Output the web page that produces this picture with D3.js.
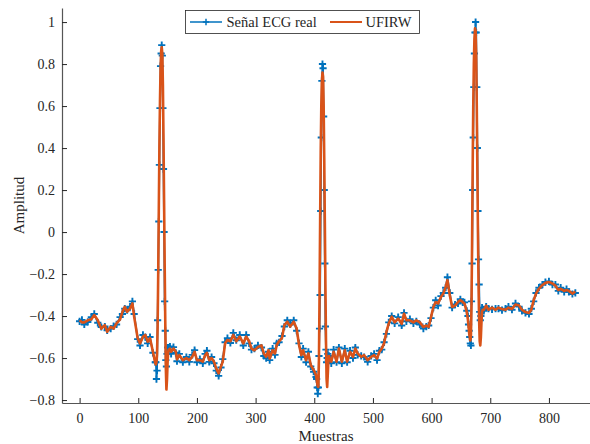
<!DOCTYPE html>
<html>
<head>
<meta charset="utf-8">
<script src="https://cdn.jsdelivr.net/npm/d3@7/dist/d3.min.js"></script>
<style>
  html, body { margin: 0; padding: 0; background: #fff; }
  svg { display: block; }
  text { font-family: "Liberation Serif", "Times New Roman", serif; fill: #262626; }
</style>
</head>
<body>
<svg id="chart" width="590" height="444"></svg>
<script>
// Sample index (x) shared by both traces
const muestras = [
  0, 4, 8, 14, 20, 25, 31, 37, 43, 47, 53, 58, 63, 69, 73, 77, 81, 86, 90, 93,
  99, 103, 108, 112, 116, 120, 125, 129,
  130, 131, 132, 133, 134, 135, 136, 137, 138, 139, 140, 141, 142, 143, 144, 145, 146, 147, 148, 149, 150, 151, 152,
  154, 156, 160, 164, 166, 170, 176, 182, 187, 192, 196, 200, 205, 210, 214, 217, 221, 225, 229, 233, 237, 241, 244,
  248, 252, 257, 262, 267, 273, 279, 284, 289, 293, 298, 304, 310, 314, 318, 322, 324, 329, 333, 336, 340, 345,
  349, 354, 359, 365, 370, 374, 378, 381, 386, 390, 394, 399, 403,
  404, 405, 406, 407, 408, 409, 410, 411, 412, 413, 414, 415, 416, 417, 418, 419, 420, 421, 422, 423, 424, 425, 426,
  429, 433, 438, 442, 447, 452, 456, 461, 466, 470, 474, 480, 485, 491, 497, 502, 507, 511, 515, 519, 523, 527,
  532, 537, 543, 549, 553, 557, 563, 569, 574, 580, 586, 591, 595, 599, 603, 607, 611, 616, 620, 624, 627, 631,
  635, 640, 645, 649, 653, 656, 660,
  662, 663, 664, 665, 666, 667, 668, 669, 670, 671, 672, 673, 674, 675, 676, 677, 678, 679, 680, 681, 682, 683, 684, 685, 686, 687,
  689, 693, 697, 703, 709, 714, 720, 726, 731, 737, 743, 749, 754, 760, 766, 770, 774, 778, 783, 789, 794, 800,
  806, 811, 816, 820, 826, 830, 834, 840, 845
];

// Measured ECG signal
const senalReal = [
  -0.425, -0.418, -0.44, -0.428, -0.405, -0.39, -0.432, -0.452, -0.45, -0.468, -0.46, -0.448, -0.44, -0.405, -0.39, -0.365, -0.372, -0.355, -0.33, -0.39,
  -0.51, -0.54, -0.49, -0.50, -0.53, -0.50, -0.575, -0.62,
  -0.62, -0.70, -0.66, -0.42, -0.18, 0.05, 0.32, 0.59, 0.79, 0.85, 0.89, 0.84, 0.59, 0.30, 0.0, -0.33, -0.47, -0.61, -0.64, -0.58, -0.55, -0.57, -0.55,
  -0.545, -0.58, -0.548, -0.575, -0.615, -0.58, -0.62, -0.595, -0.618, -0.585, -0.562, -0.62, -0.605, -0.625, -0.58, -0.565, -0.618, -0.595, -0.625, -0.66, -0.685, -0.645, -0.605,
  -0.525, -0.505, -0.528, -0.48, -0.515, -0.49, -0.54, -0.49, -0.53, -0.56, -0.555, -0.54, -0.55, -0.59, -0.60, -0.57, -0.61, -0.555, -0.585, -0.53, -0.525, -0.495,
  -0.45, -0.42, -0.44, -0.42, -0.47, -0.53, -0.595, -0.555, -0.62, -0.57, -0.64, -0.665, -0.69,
  -0.70, -0.74, -0.77, -0.74, -0.59, -0.46, -0.30, 0.10, 0.45, 0.72, 0.80, 0.78, 0.55, 0.20, -0.15, -0.45, -0.56, -0.62, -0.60, -0.58, -0.61, -0.59, -0.60,
  -0.625, -0.56, -0.62, -0.55, -0.625, -0.555, -0.62, -0.565, -0.60, -0.55, -0.585, -0.59, -0.595, -0.618, -0.59, -0.58, -0.61, -0.565, -0.56, -0.525, -0.485, -0.43,
  -0.40, -0.435, -0.405, -0.445, -0.385, -0.425, -0.415, -0.435, -0.425, -0.44, -0.46, -0.45, -0.445, -0.41, -0.36, -0.325, -0.35, -0.305, -0.29, -0.265, -0.215, -0.29,
  -0.36, -0.345, -0.34, -0.32, -0.335, -0.335, -0.375,
  -0.40, -0.44, -0.47, -0.50, -0.53, -0.54, -0.33, -0.15, 0.20, 0.45, 0.69, 0.85, 0.95, 1.0, 0.95, 0.69, 0.40, 0.10, -0.13, -0.25, -0.38, -0.42, -0.40, -0.38, -0.36, -0.37,
  -0.375, -0.355, -0.365, -0.368, -0.365, -0.365, -0.372, -0.365, -0.355, -0.37, -0.34, -0.355, -0.375, -0.385, -0.39, -0.365, -0.33, -0.29, -0.265, -0.25, -0.238, -0.235,
  -0.25, -0.25, -0.28, -0.265, -0.285, -0.272, -0.285, -0.295, -0.29
];

// UFIRW filter output
const ufirw = [
  -0.42, -0.43, -0.43, -0.42, -0.415, -0.395, -0.42, -0.46, -0.443, -0.475, -0.451, -0.46, -0.435, -0.416, -0.38, -0.356, -0.38, -0.364, -0.34, -0.403,
  -0.506, -0.53, -0.499, -0.49, -0.522, -0.506, -0.57, -0.625,
  -0.63, -0.62, -0.58, -0.45, -0.20, 0.10, 0.40, 0.62, 0.78, 0.86, 0.88, 0.85, 0.70, 0.45, 0.15, -0.15, -0.42, -0.65, -0.75, -0.70, -0.62, -0.57, -0.56,
  -0.555, -0.57, -0.555, -0.57, -0.606, -0.586, -0.61, -0.60, -0.61, -0.594, -0.57, -0.61, -0.61, -0.617, -0.586, -0.575, -0.61, -0.60, -0.617, -0.65, -0.673, -0.64, -0.617,
  -0.53, -0.514, -0.52, -0.49, -0.52, -0.498, -0.53, -0.498, -0.52, -0.555, -0.563, -0.547, -0.54, -0.578, -0.594, -0.563, -0.602, -0.563, -0.578, -0.538, -0.52, -0.505,
  -0.443, -0.427, -0.45, -0.427, -0.459, -0.538, -0.586, -0.563, -0.61, -0.578, -0.633, -0.657, -0.681,
  -0.70, -0.72, -0.735, -0.737, -0.60, -0.30, 0.05, 0.38, 0.60, 0.72, 0.76, 0.74, 0.60, 0.35, 0.05, -0.25, -0.52, -0.70, -0.737, -0.68, -0.62, -0.59, -0.60,
  -0.617, -0.57, -0.617, -0.555, -0.617, -0.563, -0.617, -0.57, -0.594, -0.555, -0.578, -0.594, -0.586, -0.61, -0.594, -0.586, -0.602, -0.57, -0.555, -0.53, -0.475, -0.435,
  -0.403, -0.43, -0.412, -0.437, -0.389, -0.42, -0.42, -0.43, -0.42, -0.43, -0.452, -0.445, -0.452, -0.405, -0.357, -0.333, -0.34, -0.309, -0.293, -0.261, -0.229, -0.30,
  -0.357, -0.35, -0.333, -0.324, -0.333, -0.34, -0.381,
  -0.42, -0.45, -0.48, -0.50, -0.516, -0.50, -0.35, -0.05, 0.30, 0.60, 0.80, 0.92, 0.97, 0.96, 0.85, 0.60, 0.30, 0.0, -0.25, -0.42, -0.52, -0.54, -0.50, -0.43, -0.38, -0.37,
  -0.37, -0.35, -0.37, -0.36, -0.37, -0.36, -0.366, -0.37, -0.36, -0.366, -0.345, -0.35, -0.37, -0.381, -0.385, -0.37, -0.324, -0.293, -0.27, -0.252, -0.242, -0.238,
  -0.245, -0.255, -0.276, -0.27, -0.28, -0.276, -0.28, -0.293, -0.283
];

const xTicks = [0, 100, 200, 300, 400, 500, 600, 700, 800];
const yTicks = [-0.8, -0.6, -0.4, -0.2, 0, 0.2, 0.4, 0.6, 0.8, 1];
const seriesNames = ["Señal ECG real", "UFIRW"];
const colors = ["#0072BD", "#D95319"];

const svg = d3.select("#chart");
const plotL = 62, plotR = 590, plotT = 8, plotB = 403;

const x = d3.scaleLinear().domain([-30, 870]).range([plotL, plotR]);
const y = d3.scaleLinear().domain([-0.814, 1.067]).range([plotB, plotT]);

const ptsBlue = muestras.map((s, i) => [s, senalReal[i]]);
const ptsOrange = muestras.map((s, i) => [s, ufirw[i]]);

const line = d3.line().x(d => x(d[0])).y(d => y(d[1]));

// Measured signal: line plus "+" markers
svg.append("path").datum(ptsBlue)
  .attr("d", line).attr("fill", "none")
  .attr("stroke", colors[0]).attr("stroke-width", 1.8);

const plusSize = 3.6;
svg.append("g").selectAll("path").data(ptsBlue).join("path")
  .attr("d", d => {
    const cx = x(d[0]), cy = y(d[1]);
    return `M${cx - plusSize},${cy}H${cx + plusSize}M${cx},${cy - plusSize}V${cy + plusSize}`;
  })
  .attr("stroke", colors[0]).attr("stroke-width", 1.9).attr("fill", "none");

// Filter output on top
svg.append("path").datum(ptsOrange)
  .attr("d", line).attr("fill", "none")
  .attr("stroke", colors[1]).attr("stroke-width", 2.6)
  .attr("stroke-linejoin", "round");

// Axes (ticks pointing inward)
const xAxis = d3.axisBottom(x).tickValues(xTicks).tickSizeInner(-5).tickSizeOuter(0).tickPadding(10)
  .tickFormat(d3.format("d"));
const yAxis = d3.axisLeft(y).tickValues(yTicks).tickSizeInner(-5).tickSizeOuter(0).tickPadding(7)
  .tickFormat(d => d === 0 ? "0" : (d === 1 ? "1" : d3.format(".1f")(d)));

const gx = svg.append("g").attr("transform", `translate(0,${plotB})`).call(xAxis);
const gy = svg.append("g").attr("transform", `translate(${plotL},0)`).call(yAxis);

[gx, gy].forEach(g => {
  g.select(".domain").attr("stroke", "#555").attr("stroke-width", 1.2);
  g.selectAll(".tick line").attr("stroke", "#262626").attr("stroke-width", 1);
  g.selectAll(".tick text")
    .style("font-family", "'Liberation Serif', 'Times New Roman', serif")
    .style("font-size", "14px").attr("fill", "#262626");
});

// Axis titles
svg.append("text").attr("x", (plotL + plotR) / 2).attr("y", 441)
  .attr("text-anchor", "middle").style("font-size", "15px").text("Muestras");
svg.append("text").attr("transform", `translate(24,${(plotT + plotB) / 2}) rotate(-90)`)
  .attr("text-anchor", "middle").style("font-size", "15px").text("Amplitud");

// Legend
const lg = svg.append("g");
lg.append("rect").attr("x", 185.5).attr("y", 10.5).attr("width", 234).attr("height", 23)
  .attr("fill", "#fff").attr("stroke", "#262626").attr("stroke-width", 0.8);
lg.append("line").attr("x1", 190).attr("x2", 222).attr("y1", 22).attr("y2", 22)
  .attr("stroke", colors[0]).attr("stroke-width", 1.5);
lg.append("path").attr("d", `M${206 - 3.2},22H${206 + 3.2}M206,${22 - 3.2}V${22 + 3.2}`)
  .attr("stroke", colors[0]).attr("stroke-width", 1.5);
lg.append("text").attr("x", 226.5).attr("y", 27).style("font-size", "14.5px").text(seriesNames[0]);
lg.append("line").attr("x1", 330).attr("x2", 362).attr("y1", 22).attr("y2", 22)
  .attr("stroke", colors[1]).attr("stroke-width", 2);
lg.append("text").attr("x", 365.5).attr("y", 27).style("font-size", "14.5px").text(seriesNames[1]);
</script>
</body>
</html>
